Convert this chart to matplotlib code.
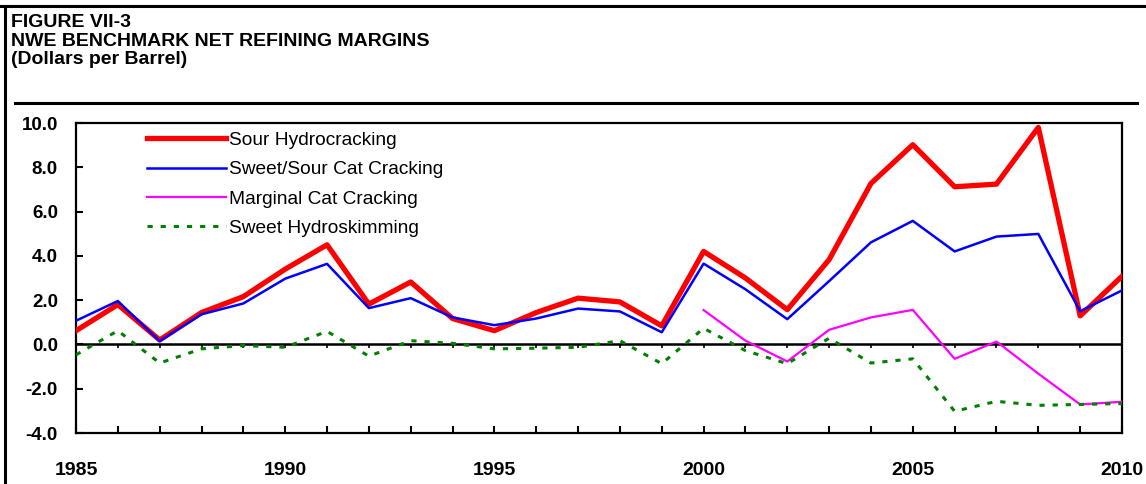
import matplotlib.pyplot as plt
import numpy as np

plt.rcParams['font.family'] = ['Liberation Sans', 'DejaVu Sans']

years = list(range(1985, 2011))

sour_hydrocracking = [0.62, 1.8, 0.2, 1.44, 2.16, 3.4, 4.5, 1.82, 2.82, 1.17, 0.62, 1.44, 2.09,
                      1.92, 0.84, 4.2, 3.0, 1.57, 3.83, 7.27, 9.02, 7.12, 7.24, 9.8, 1.29, 3.08]
sweet_sour_cat = [1.07, 1.96, 0.15, 1.36, 1.85, 2.97, 3.64, 1.64, 2.09, 1.22, 0.87, 1.17, 1.62,
                  1.49, 0.55, 3.65, 2.49, 1.14, 2.86, 4.61, 5.58, 4.2, 4.87, 4.99, 1.5, 2.44]
marginal_years = list(range(2000, 2011))
marginal_cat = [1.55, 0.17, -0.77, 0.66, 1.22, 1.56, -0.65, 0.13, -1.32, -2.71, -2.59]
sweet_hydroskimming = [-0.47, 0.62, -0.84, -0.2, -0.05, -0.13, 0.59, -0.53, 0.17, 0.05, -0.2, -0.17,
                       -0.13, 0.17, -0.87, 0.73, -0.28, -0.87, 0.28, -0.84, -0.65, -3.02, -2.57,
                       -2.75, -2.71, -2.67]

labels = ['Sour Hydrocracking', 'Sweet/Sour Cat Cracking', 'Marginal Cat Cracking',
          'Sweet Hydroskimming']

W, H = 1146, 484
fig = plt.figure(figsize=(W / 100, H / 100), dpi=100)

# outer frame lines and title block
fig.add_artist(plt.Line2D([0, 1], [1 - 6 / H, 1 - 6 / H], color='black', lw=2.2))
fig.add_artist(plt.Line2D([5 / W, 5 / W], [0, 1 - 6 / H], color='black', lw=2.2))
fig.add_artist(plt.Line2D([15 / W, 1137 / W], [1 - 103 / H, 1 - 103 / H], color='black', lw=2.2))
for txt, base in [('FIGURE VII-3', 27), ('NWE BENCHMARK NET REFINING MARGINS', 45.5),
                  ('(Dollars per Barrel)', 64)]:
    fig.text(11 / W, 1 - base / H, txt, fontsize=14, fontweight='bold', va='baseline', ha='left')

ax = fig.add_axes([76 / W, 1 - 433 / H, (1122 - 76) / W, (433 - 123) / H])

ax.plot(years, sour_hydrocracking, color='#ff0000', lw=3.8, label=labels[0], zorder=4)
ax.plot(years, sweet_sour_cat, color='#0000ff', lw=1.8, label=labels[1], zorder=5)
ax.plot(marginal_years, marginal_cat, color='#ff00ff', lw=1.6, label=labels[2], zorder=3)
ax.plot(years, sweet_hydroskimming, color='#008000', lw=2.2, dashes=(1.7, 2.6),
        label=labels[3], zorder=3)
ax.axhline(0, color='black', lw=1.8, zorder=2)

ax.set_xlim(1985, 2010)
ax.set_ylim(-4, 10)
ax.set_yticks(np.arange(-4, 10.1, 2))
ax.set_yticklabels([f'{v:.1f}' for v in np.arange(-4, 10.1, 2)])
ax.set_xticks(range(1985, 2011, 5))
ax.set_xticks(years, minor=True)
for s in ax.spines.values():
    s.set_linewidth(1.6)
ax.tick_params(axis='y', direction='in', length=5, width=1.5, pad=13, labelsize=13.5)
ax.tick_params(axis='x', which='both', direction='in', length=5, width=1.5, pad=21, labelsize=14)
for t in ax.get_xticklabels() + ax.get_yticklabels():
    t.set_fontweight('bold')

# small tick marks along the zero line
sec = ax.secondary_xaxis(4 / 14)
sec.set_xticks(years)
sec.tick_params(direction='out', length=3, width=1.2, labeltop=False, labelbottom=False)
sec.spines['top'].set_visible(False)

ax.legend(loc='upper left', bbox_to_anchor=((147 - 76) / 1046, 1 - 8.5 / 310), frameon=False,
          fontsize=13.8, handlelength=4.1, handletextpad=0.2, labelspacing=0.62, borderpad=0,
          borderaxespad=0)

fig.savefig('out.png', dpi=100)
